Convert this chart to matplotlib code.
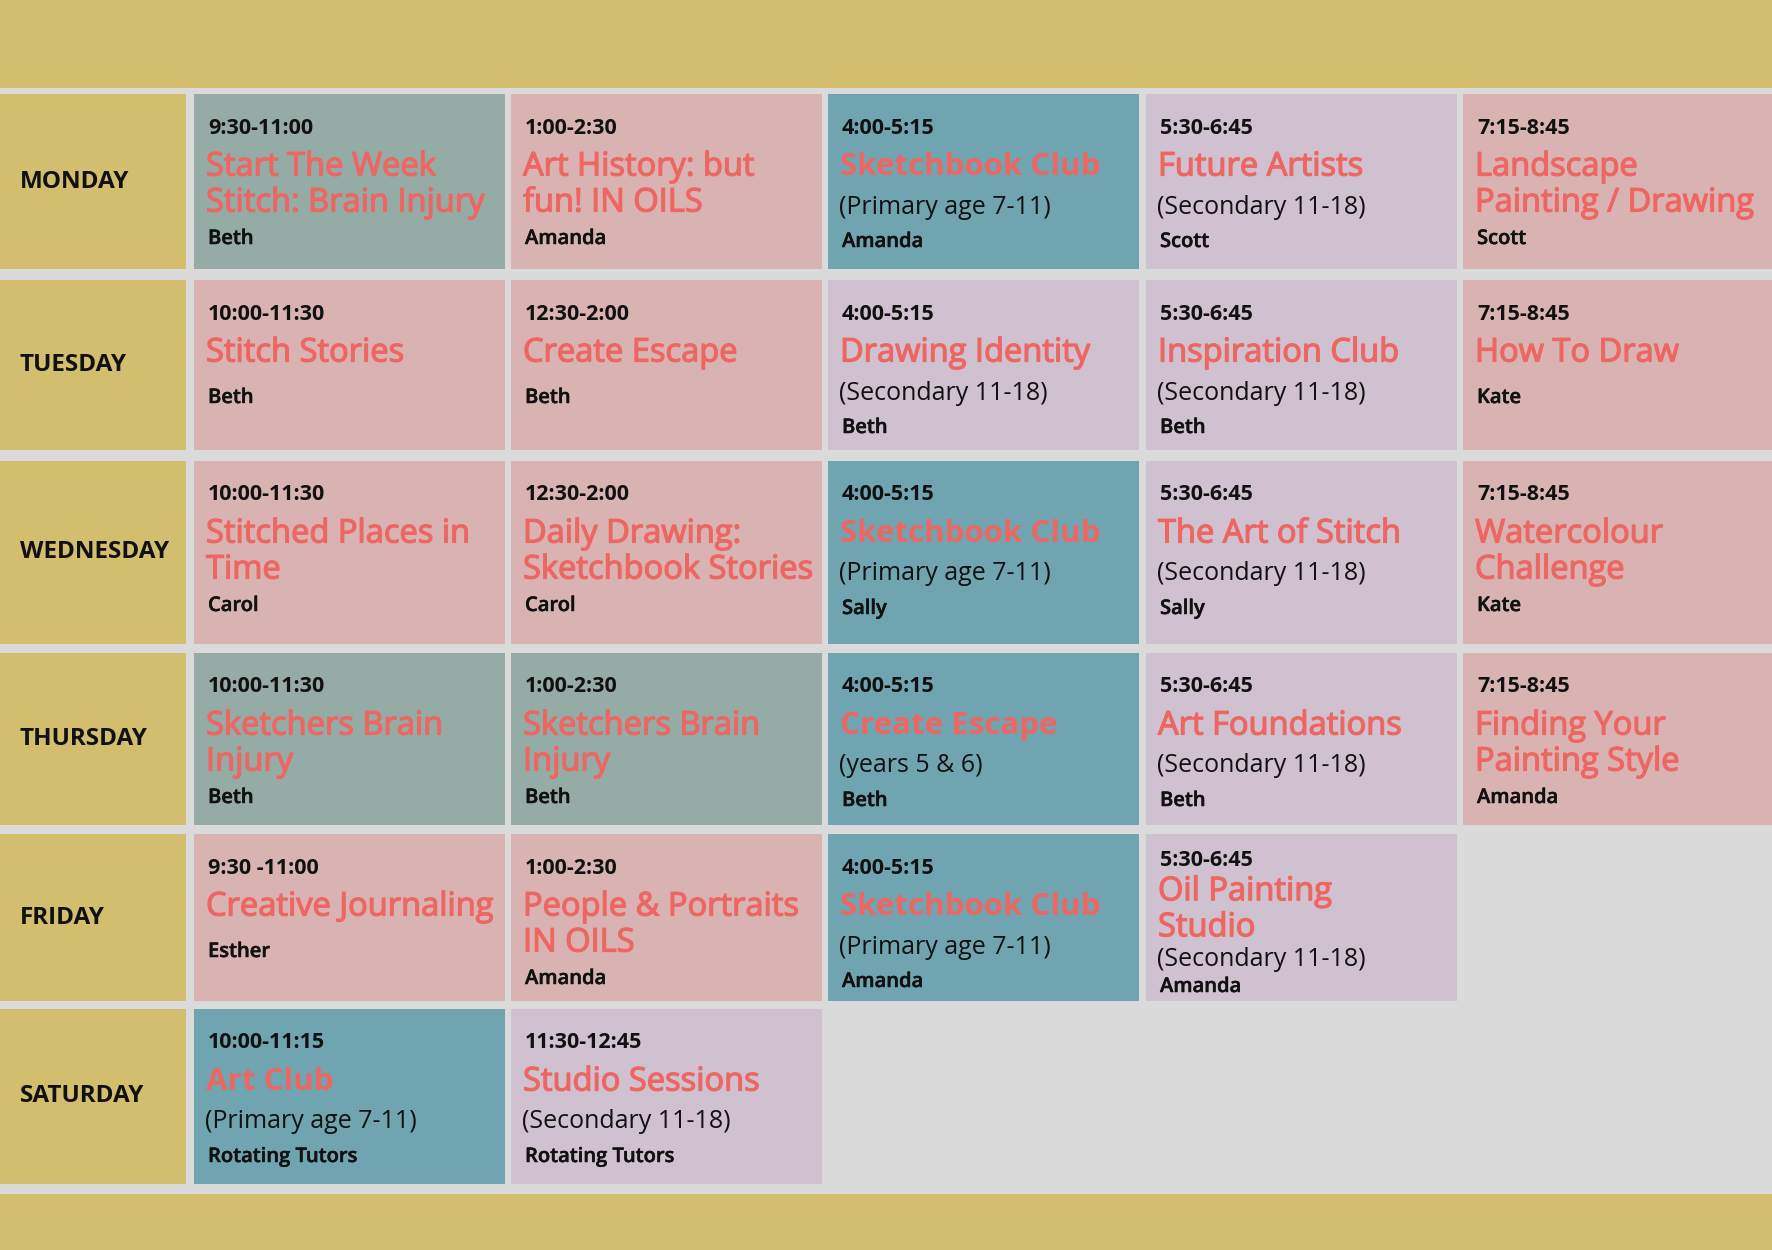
import matplotlib
matplotlib.use("Agg")
import matplotlib.pyplot as plt
from matplotlib.patches import Rectangle
import matplotlib.patheffects as pe

# ---------------- data ----------------
days = ["MONDAY", "TUESDAY", "WEDNESDAY", "THURSDAY", "FRIDAY", "SATURDAY"]

times = [
    ["9:30-11:00", "1:00-2:30", "4:00-5:15", "5:30-6:45", "7:15-8:45"],
    ["10:00-11:30", "12:30-2:00", "4:00-5:15", "5:30-6:45", "7:15-8:45"],
    ["10:00-11:30", "12:30-2:00", "4:00-5:15", "5:30-6:45", "7:15-8:45"],
    ["10:00-11:30", "1:00-2:30", "4:00-5:15", "5:30-6:45", "7:15-8:45"],
    ["9:30 -11:00", "1:00-2:30", "4:00-5:15", "5:30-6:45"],
    ["10:00-11:15", "11:30-12:45"],
]

titles = [
    ["Start The Week\nStitch: Brain Injury", "Art History: but\nfun! IN OILS", "Sketchbook Club",
     "Future Artists", "Landscape\nPainting / Drawing"],
    ["Stitch Stories", "Create Escape", "Drawing Identity", "Inspiration Club", "How To Draw"],
    ["Stitched Places in\nTime", "Daily Drawing:\nSketchbook Stories", "Sketchbook Club",
     "The Art of Stitch", "Watercolour\nChallenge"],
    ["Sketchers Brain\nInjury", "Sketchers Brain\nInjury", "Create Escape", "Art Foundations",
     "Finding Your\nPainting Style"],
    ["Creative Journaling", "People & Portraits\nIN OILS", "Sketchbook Club", "Oil Painting\nStudio"],
    ["Art Club", "Studio Sessions"],
]

subtitles = [
    ["", "", "(Primary age 7-11)", "(Secondary 11-18)", ""],
    ["", "", "(Secondary 11-18)", "(Secondary 11-18)", ""],
    ["", "", "(Primary age 7-11)", "(Secondary 11-18)", ""],
    ["", "", "(years 5 & 6)", "(Secondary 11-18)", ""],
    ["", "", "(Primary age 7-11)", "(Secondary 11-18)"],
    ["(Primary age 7-11)", "(Secondary 11-18)"],
]

tutors = [
    ["Beth", "Amanda", "Amanda", "Scott", "Scott"],
    ["Beth", "Beth", "Beth", "Beth", "Kate"],
    ["Carol", "Carol", "Sally", "Sally", "Kate"],
    ["Beth", "Beth", "Beth", "Beth", "Amanda"],
    ["Esther", "Amanda", "Amanda", "Amanda"],
    ["Rotating Tutors", "Rotating Tutors"],
]

kinds = [
    ["adult_stitch", "adult", "primary", "secondary", "adult"],
    ["adult", "adult", "secondary", "secondary", "adult"],
    ["adult", "adult", "primary", "secondary", "adult"],
    ["adult_stitch", "adult_stitch", "primary", "secondary", "adult"],
    ["adult", "adult", "primary", "secondary"],
    ["primary", "secondary"],
]

# ---------------- style / layout ----------------
palette = {
    "adult_stitch": "#95ABA5",
    "adult": "#D8B3B2",
    "primary": "#71A4B1",
    "secondary": "#CFC1CF",
}
GOLD = "#D3BD6F"
BG = "#DADADA"
CORAL = "#EE6662"
INK = "#111111"

W, H = 1772, 1250
row_edges = [(94, 269), (280, 450), (461, 644), (653, 825), (834, 1001), (1009, 1184)]
col_edges = [(194, 505), (511, 822), (828, 1139), (1146, 1457), (1463, 1772)]
day_col = (0, 186)

# vertical gaps (px) inside a cell
G_TIME, G_TITLE1, G_LINE, G_SUB, G_TUTOR_SUB = 34, 39, 36, 40, 35
G_TUTOR_ONE, G_TUTOR_MULTI = 45, 36
BOTTOM_PAD = 14

FONT = ["Open Sans", "Noto Sans", "DejaVu Sans"]
plt.rcParams["font.family"] = FONT

fig = plt.figure(figsize=(W / 100, H / 100), dpi=100)
fig.patch.set_facecolor(BG)
ax = fig.add_axes([0, 0, 1, 1])
ax.set_xlim(0, W)
ax.set_ylim(H, 0)
ax.axis("off")

semibold = [pe.withStroke(linewidth=0.9, foreground=CORAL)]
ink_med = [pe.withStroke(linewidth=0.35, foreground=INK)]

# top and bottom bands
ax.add_patch(Rectangle((0, 0), W, 88, color=GOLD, lw=0))
ax.add_patch(Rectangle((0, 1194), W, H - 1194, color=GOLD, lw=0))

for r, day in enumerate(days):
    y0, y1 = row_edges[r]
    ax.add_patch(Rectangle((day_col[0], y0), day_col[1] - day_col[0], y1 - y0, color=GOLD, lw=0))
    ax.text(day_col[0] + 20, (y0 + y1) / 2, day, fontsize=17.5, fontweight="bold",
            color=INK, va="center", ha="left")
    for c in range(len(titles[r])):
        x0, x1 = col_edges[c]
        kind = kinds[r][c]
        ax.add_patch(Rectangle((x0, y0), x1 - x0, y1 - y0, color=palette[kind], lw=0))
        lines = titles[r][c].split("\n")
        # gaps: (size, compressible?)
        gaps = [(G_TIME, True), (G_TITLE1, True)] + [(G_LINE, False)] * (len(lines) - 1)
        if subtitles[r][c]:
            gaps += [(G_SUB, True), (G_TUTOR_SUB, True)]
        else:
            gaps += [(G_TUTOR_ONE if len(lines) == 1 else G_TUTOR_MULTI, True)]
        avail = (y1 - y0) - BOTTOM_PAD
        fixed = sum(g for g, comp in gaps if not comp)
        flex = sum(g for g, comp in gaps if comp)
        s = min(1.0, (avail - fixed) / flex)
        ys = []
        acc = y0
        for g, comp in gaps:
            acc += g * (s if comp else 1.0)
            ys.append(acc)
        tx = x0 + 14
        k = 0
        ax.text(tx, ys[k], times[r][c], fontsize=15.5, fontweight="bold", color=INK,
                va="center", ha="left")
        k += 1
        for line in lines:
            if kind == "primary":
                ax.text(tx - 2, ys[k], line, fontsize=22.5, fontweight="bold", color=CORAL,
                        va="center", ha="left")
            else:
                ax.text(tx - 2, ys[k], line, fontsize=23.5, fontweight="normal", color=CORAL,
                        va="center", ha="left", path_effects=semibold)
            k += 1
        if subtitles[r][c]:
            ax.text(tx - 3, ys[k], subtitles[r][c], fontsize=18, fontweight="normal",
                    color=INK, va="center", ha="left")
            k += 1
        ax.text(tx, ys[k], tutors[r][c], fontsize=14.5, fontweight="semibold", color=INK,
                va="center", ha="left", path_effects=ink_med)

fig.savefig("out.png", dpi=100, facecolor=BG)
